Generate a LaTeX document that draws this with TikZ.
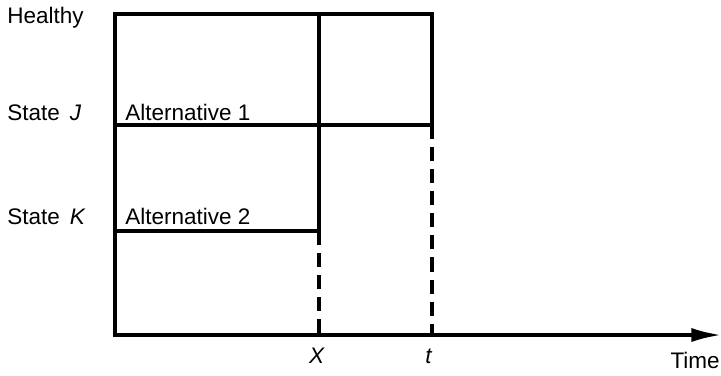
\documentclass[tikz,border=0pt]{standalone}
\usepackage{fontspec}
\setmainfont{Liberation Sans}
\usepackage{tikz}
\usetikzlibrary{positioning, arrows.meta, calc}

\begin{document}
\begin{tikzpicture}[
    x=0.025cm, y=-0.025cm,
    solidline/.style={line width=2.2pt},
    dashline/.style={line width=2.2pt, dash pattern=on 10pt off 5.7pt},
    label/.style={font=\fontsize{16}{18}\selectfont, anchor=base west, inner sep=0pt},
]
    \useasboundingbox (0,0) rectangle (721,375);

    % Grid positions
    \def\xl{115}
    \def\xx{319}
    \def\xt{432}
    \def\yh{14}
    \def\yj{125}
    \def\yk{231}
    \def\ya{335}

    \coordinate (origin) at (\xl,\ya);
    \coordinate (top left) at (\xl,\yh);
    \coordinate (top X) at (\xx,\yh);
    \coordinate (top t) at (\xt,\yh);
    \coordinate (J left) at (\xl,\yj);
    \coordinate (J X) at (\xx,\yj);
    \coordinate (J t) at (\xt,\yj);
    \coordinate (K left) at (\xl,\yk);
    \coordinate (K X) at (\xx,\yk);
    \coordinate (axis X) at (\xx,\ya);
    \coordinate (axis t) at (\xt,\ya);
    \coordinate (axis end) at (721,\ya);

    % State labels
    \node[label] (healthy) at (7,23) {Healthy};
    \node[label] (stateJ) at (7,120) {State \,\textit{J}};
    \node[label] (stateK) at (7,224) {State \,\textit{K}};
    \node[label] (alt1) at (125,120) {Alternative 1};
    \node[label] (alt2) at (125,224) {Alternative 2};

    % Time labels
    \node[label, anchor=base] (labX) at (317,363) {\textit{X}};
    \node[label, anchor=base] (labt) at (429,363) {\textit{t}};
    \node[label, anchor=base east] (time) at (720,368) {Time};

    % Boxes
    \draw[solidline] (K left) -- (top left) -- (top t) -- (J t) -- (J left);
    \draw[solidline] (top X) -- (K X) -- (K left);

    % Dashed drop lines
    \draw[dashline] (K X) -- (axis X);
    \draw[dashline] (J t) -- (axis t);

    % Axes
    \draw[solidline, -{Latex[length=21pt, width=10pt]}] (K left) -- (origin) -- (axis end);

\end{tikzpicture}
\end{document}
